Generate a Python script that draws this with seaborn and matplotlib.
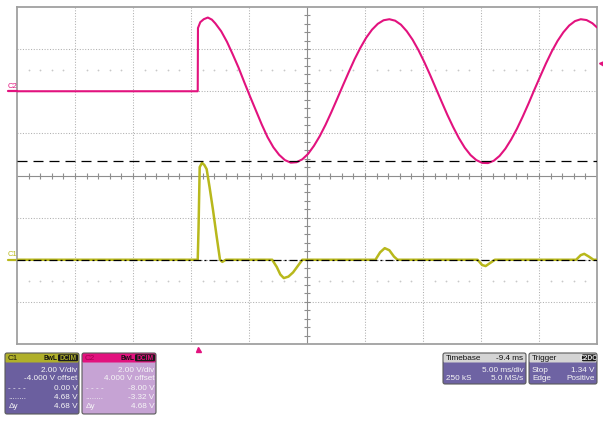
import matplotlib
matplotlib.use("Agg")
import matplotlib.pyplot as plt
import matplotlib.transforms as mtransforms
from matplotlib.patches import FancyBboxPatch
import numpy as np
import seaborn as sns

# ---- acquisition settings -------------------------------------------------
time_per_div = 5.0          # ms/div
delay = 9.4                 # screen centre relative to trigger, ms
c1_volts_per_div = 2.0
c2_volts_per_div = 2.0
c1_offset = -4.0
c2_offset = 4.0
c1_cursors = [0.00, 4.68]
c2_cursors = [-8.00, -3.32]
trigger_level = 1.34        # V on C2

# ---- C1 trace (time ms, volts) --------------------------------------------
c1_t = [-15.6, -0.02, 0.05, 0.15, 0.35, 0.55, 0.75, 1.0, 1.3, 1.6, 1.9, 2.1, 2.4,
        6.4, 6.8, 7.1, 7.4, 7.8, 8.2, 8.6, 9.0,
        15.3, 15.7, 16.1, 16.5, 16.9, 17.2,
        24.1, 24.5, 24.8, 25.2, 25.6,
        32.6, 33.0, 33.3, 33.7, 34.1, 34.4]
c1_v = [0, 0, 1.5, 4.4, 4.6, 4.5, 4.3, 3.45, 2.35, 1.15, 0.0, -0.1, 0,
        0, -0.35, -0.7, -0.87, -0.8, -0.6, -0.3, 0,
        0, 0.35, 0.55, 0.45, 0.15, 0,
        0, -0.25, -0.3, -0.15, 0,
        0, 0.22, 0.28, 0.15, 0, 0]

# ---- C2 trace (time ms, volts) --------------------------------------------
c2_t = [-15.6, -0.02, 0.0, 0.2, 0.5, 0.85, 1.2, 1.5, 2.0, 2.5, 3.0, 3.5, 4.0,
        4.5, 5.0, 5.5, 6.0, 6.5, 7.0, 7.5, 8.0, 8.5, 9.0, 9.5, 10.0, 10.5,
        11.0, 11.5, 12.0, 12.5, 13.0, 13.5, 14.0, 14.5, 15.0, 15.5, 16.0, 16.5,
        17.0, 17.5, 18.0, 18.5, 19.0, 19.5, 20.0, 20.5, 21.0, 21.5, 22.0, 22.5,
        23.0, 23.5, 24.0, 24.5, 25.0, 25.5, 26.0, 26.5, 27.0, 27.5, 28.0, 28.5,
        29.0, 29.5, 30.0, 30.5, 31.0, 31.5, 32.0, 32.5, 33.0, 33.5, 34.0, 34.4]
c2_v = [0, 0, 3.0, 3.28, 3.42, 3.5, 3.4, 3.22, 2.85, 2.35, 1.75, 1.12, 0.42,
        -0.26, -0.92, -1.58, -2.18, -2.66, -3.02, -3.27, -3.39, -3.37, -3.23, -2.97, -2.59, -2.13,
        -1.59, -0.99, -0.36, 0.28, 0.91, 1.52, 2.06, 2.54, 2.92, 3.20, 3.37, 3.42,
        3.35, 3.16, 2.85, 2.45, 1.96, 1.40, 0.79, 0.15, -0.49, -1.12, -1.70, -2.23,
        -2.68, -3.03, -3.27, -3.40, -3.41, -3.30, -3.07, -2.73, -2.29, -1.78, -1.20, -0.58,
        0.07, 0.70, 1.32, 1.89, 2.39, 2.80, 3.12, 3.33, 3.42, 3.38, 3.23, 3.03]

c1_color = "#b8b81c"
c2_color = "#e2127e"

sns.set_style("white")
plt.rcParams["font.family"] = ["Liberation Sans", "DejaVu Sans"]

W, H = 603, 421
L, R, T, B = 17, 597, 7, 344
fig = plt.figure(figsize=(W / 100, H / 100), dpi=100)
fig.patch.set_facecolor("white")
ax = fig.add_axes([L / W, 1 - B / H, (R - L) / W, (B - T) / H])

x_lo, x_hi = delay - 5 * time_per_div, delay + 5 * time_per_div
c1_mid = -c1_offset
c2_mid = -c2_offset
ax.set_xlim(x_lo, x_hi)
ax.set_ylim(c1_mid - 4 * c1_volts_per_div, c1_mid + 4 * c1_volts_per_div)
ax.set_xticks([])
ax.set_yticks([])
for s in ax.spines.values():
    s.set_color("#a0a0a0")
    s.set_linewidth(1.3)

# graticule
grid_kw = dict(color="#b0b0b0", lw=0.75, ls=(0, (1, 1.6)), zorder=0)
for k in range(1, 10):
    if k != 5:
        ax.axvline(x_lo + k * time_per_div, **grid_kw)
for k in range(1, 8):
    if k != 4:
        ax.axhline(c1_mid + (k - 4) * c1_volts_per_div, **grid_kw)
ax.axvline(delay, color="#8e8e8e", lw=0.8, zorder=0)
ax.axhline(c1_mid, color="#8e8e8e", lw=0.8, zorder=0)
minor_x = x_lo + np.arange(1, 50) * time_per_div / 5
minor_y = c1_mid + np.arange(-19, 20) * c1_volts_per_div / 5
ax.plot(minor_x, np.full_like(minor_x, c1_mid), ls="none", marker="|",
        ms=4.2, mew=0.8, color="#8e8e8e", zorder=0)
ax.plot(np.full_like(minor_y, delay), minor_y, ls="none", marker="_",
        ms=4.2, mew=0.8, color="#8e8e8e", zorder=0)
dot_x = np.array([x for i, x in enumerate(minor_x) if (i + 1) % 5 != 0])
for lvl in (c1_mid + 2.5 * c1_volts_per_div, c1_mid - 2.5 * c1_volts_per_div):
    ax.plot(dot_x, np.full_like(dot_x, lvl), ls="none", marker="o", ms=1.3,
            mew=0, color="#c8c8c8", zorder=0)

# C1 trace
sns.lineplot(x=c1_t, y=c1_v, ax=ax, color=c1_color, lw=1.8, estimator=None,
             sort=False, legend=False, zorder=3)

# C2 on its own vertical scale
ax2 = ax.twinx()
ax2.set_ylim(c2_mid - 4 * c2_volts_per_div, c2_mid + 4 * c2_volts_per_div)
ax2.patch.set_visible(False)
ax2.set_yticks([])
for s in ax2.spines.values():
    s.set_visible(False)
sns.lineplot(x=c2_t, y=c2_v, ax=ax2, color=c2_color, lw=1.5, estimator=None,
             sort=False, legend=False, zorder=3)

# cursors
ax2.axhline(c2_cursors[1], color="black", lw=0.9, dashes=(8, 4.8), zorder=4)
ax2.axhline(c2_cursors[0], color="black", lw=0.9, dashes=(6.4, 2.4, 1.6, 2.4), zorder=4)

# channel ground markers and trigger markers
bl1 = mtransforms.blended_transform_factory(ax.transAxes, ax.transData)
bl2 = mtransforms.blended_transform_factory(ax2.transAxes, ax2.transData)
mx = -9 / (R - L)
ax.plot([mx, 0], [0, 0], transform=bl1, color=c1_color, lw=1.6, clip_on=False)
ax.annotate("C1", xy=(mx, 0), xycoords=bl1, xytext=(0, 1.0), textcoords="offset points",
            fontsize=5.5, color=c1_color, ha="left", va="bottom", annotation_clip=False)
ax2.plot([mx, 0], [0, 0], transform=bl2, color=c2_color, lw=1.6, clip_on=False)
ax2.annotate("C2", xy=(mx, 0), xycoords=bl2, xytext=(0, 1.0), textcoords="offset points",
             fontsize=5.5, color=c2_color, ha="left", va="bottom", annotation_clip=False)
ax2.plot([1 + 4 / (R - L)], [trigger_level], transform=bl2, marker="<", ms=3.6,
         color=c2_color, clip_on=False)
blx = mtransforms.blended_transform_factory(ax.transData, ax.transAxes)
ax.plot([0], [-5 / (B - T)], transform=blx, marker="^", ms=3.6, color=c2_color,
        clip_on=False)

# ---- readout panels -------------------------------------------------------
ov = fig.add_axes([0, 0, 1, 1], zorder=5)
ov.set_xlim(0, W)
ov.set_ylim(H, 0)
ov.axis("off")
ov.patch.set_alpha(0)

FS = 5.9
TXT = "#f6f6f6"


def panel(x, y, w, h, head_fc, body_fc):
    ov.add_patch(FancyBboxPatch((x, y), w, h, boxstyle="round,pad=0,rounding_size=2",
                                fc=body_fc, ec="none"))
    ov.add_patch(FancyBboxPatch((x, y), w, 9.5, boxstyle="round,pad=0,rounding_size=1.5",
                                fc=head_fc, ec="none"))
    ov.add_patch(FancyBboxPatch((x, y), w, h, boxstyle="round,pad=0,rounding_size=2",
                                fc="none", ec="#5a5a5a", lw=0.8))


def badge(x, y, w, text, fc, tc):
    ov.add_patch(FancyBboxPatch((x, y + 1.3), w, 7, boxstyle="round,pad=0,rounding_size=1.2",
                                fc=fc, ec="none"))
    ov.text(x + w / 2, y + 5, text, fontsize=4.8, color=tc, ha="center", va="center",
            fontweight="bold")


rows = [370, 379, 388.5, 397.5, 406.5]

# C1 panel
c1_head, c1_body = "#b0b02a", "#6b5f9f"
panel(5, 353, 74, 61, c1_head, c1_body)
ov.text(8, 358, "C1", fontsize=FS, color="#1e1e10", va="center")
ov.text(57.5, 358, "BwL", fontsize=4.8, color="#111111", va="center", ha="right",
        fontweight="bold")
badge(58, 353, 20, "DCIM", "#1a1a1a", c1_head)
c1_rows = [("", f"{c1_volts_per_div:.2f} V/div"),
           ("", f"{c1_offset:.3f} V offset"),
           ("- - - -", f"{c1_cursors[0]:.2f} V"),
           ("........", f"{c1_cursors[1]:.2f} V"),
           ("Δy", f"{c1_cursors[1] - c1_cursors[0]:.2f} V")]
for yy, (lt, rt) in zip(rows, c1_rows):
    ov.text(77.5, yy, rt, fontsize=FS, color=TXT, ha="right", va="center")
    if lt:
        ov.text(8.5, yy, lt, fontsize=FS, color=TXT, ha="left", va="center")

# C2 panel
c2_head, c2_body = "#e2127e", "#c6a3d4"
panel(82, 353, 74, 61, c2_head, c2_body)
ov.text(85, 358, "C2", fontsize=FS, color="#a3004f", va="center")
ov.text(134.5, 358, "BwL", fontsize=4.8, color="#111111", va="center", ha="right",
        fontweight="bold")
badge(135, 353, 20, "DCIM", "#1a1a1a", c2_head)
c2_rows = [("", f"{c2_volts_per_div:.2f} V/div"),
           ("", f"{c2_offset:.3f} V offset"),
           ("- - - -", f"{c2_cursors[0]:.2f} V"),
           ("........", f"{c2_cursors[1]:.2f} V"),
           ("Δy", f"{c2_cursors[1] - c2_cursors[0]:.2f} V")]
for yy, (lt, rt) in zip(rows, c2_rows):
    ov.text(154.5, yy, rt, fontsize=FS, color=TXT, ha="right", va="center")
    if lt:
        ov.text(85.5, yy, lt, fontsize=FS, color=TXT, ha="left", va="center")

# timebase panel
tb_head, tb_body = "#d4d4d4", "#6e63a3"
panel(443, 353, 83, 31, tb_head, tb_body)
ov.text(446, 358, "Timebase", fontsize=FS, color="#111111", va="center")
ov.text(523.5, 358, f"{-delay:.1f} ms", fontsize=FS, color="#111111", va="center", ha="right")
ov.text(523.5, rows[0], f"{time_per_div:.2f} ms/div", fontsize=FS, color=TXT, va="center", ha="right")
ov.text(446, rows[1], "250 kS", fontsize=FS, color=TXT, va="center")
ov.text(523.5, rows[1], "5.0 MS/s", fontsize=FS, color=TXT, va="center", ha="right")

# trigger panel
panel(529, 353, 68, 31, tb_head, tb_body)
ov.text(532, 358, "Trigger", fontsize=FS, color="#111111", va="center")
badge(582, 353, 14, "C2DC", "#1a1a1a", "#e8e8e8")
ov.text(532, rows[0], "Stop", fontsize=FS, color=TXT, va="center")
ov.text(594.5, rows[0], f"{trigger_level:.2f} V", fontsize=FS, color=TXT, va="center", ha="right")
ov.text(532, rows[1], "Edge", fontsize=FS, color=TXT, va="center")
ov.text(594.5, rows[1], "Positive", fontsize=FS, color=TXT, va="center", ha="right")

fig.savefig("out.png", dpi=100)
